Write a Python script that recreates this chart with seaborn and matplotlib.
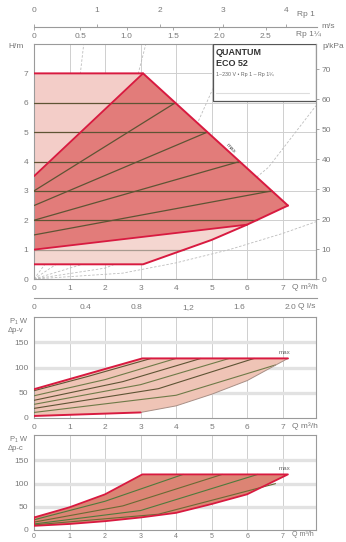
import numpy as np
import pandas as pd
import matplotlib
matplotlib.use("Agg")
import matplotlib.pyplot as plt
import seaborn as sns

sns.set_style("white")
plt.rcParams['font.family'] = ['Liberation Sans', 'DejaVu Sans']

# ---------------- data ----------------
# top chart: head H (m) vs flow Q (m3/h)
outline_q = [0, 0, 3.07, 7.15, 6.0, 5.0, 4.0, 3.07, 0]
outline_h = [0.5, 7, 7, 2.5, 1.85, 1.33, 0.9, 0.5, 0.5]
upper_q = [0, 3.07, 7.15]
upper_h = [7, 7, 2.5]
lower_q = [0, 3.07, 4.0, 5.0, 6.0, 7.15]
lower_h = [0.5, 0.5, 0.9, 1.33, 1.85, 2.5]
maxprop_q = [0, 3.07]
maxprop_h = [3.5, 7]
minprop_q = [0, 6.0]
minprop_h = [1.0, 1.85]
prop_start_h = [3.0, 2.5, 2.0, 1.5]
prop_end_q = [3.98, 4.88, 5.79, 6.70]
prop_end_h = [6, 5, 4, 3]
const_h = [6, 5, 4, 3, 2, 1]
const_end_q = [3.98, 4.88, 5.79, 6.70, 6.27, 4.23]
sys_curves = [
    ([0, 0.4, 0.7, 1.0, 1.2, 1.4], [0, 0.65, 2.0, 4.1, 5.9, 8.0]),
    ([0, 1.0, 1.6, 2.2, 2.7, 3.15], [0, 0.8, 2.1, 3.9, 5.9, 8.0]),
    ([0, 1.5, 2.5, 3.5, 4.6, 5.6], [0, 0.55, 1.6, 3.1, 5.3, 8.0]),
    ([0, 2.0, 3.5, 5.0, 6.6, 7.94], [0, 0.37, 1.1, 2.2, 3.8, 5.9]),
    ([0, 2.5, 4.0, 5.5, 7.0, 7.94], [0, 0.2, 0.55, 1.0, 1.55, 1.95]),
]
h_ticks = [0, 1, 2, 3, 4, 5, 6, 7]
kpa_ticks = [0, 10, 20, 30, 40, 50, 60, 70]
q_ticks = [0, 1, 2, 3, 4, 5, 6, 7]
ls_ticks = [0, 0.4, 0.8, 1.2, 1.6, 2.0]
ls_labels = ["0", "0.4", "0.8", "1,2", "1.6", "2.0"]
rp1_ticks = [0, 1, 2, 3, 4]
rp114_ticks = [0, 0.5, 1.0, 1.5, 2.0, 2.5]
rp114_labels = ["0", "0.5", "1.0", "1.5", "2.0", "2.5"]

# middle chart: power P1 (W), delta p-v
mid_out_q = [0, 3.05, 7.15, 6.0, 5.0, 4.0, 3.0, 0]
mid_out_w = [57, 118, 118, 74, 47, 24, 11, 4]
mid_top_q = [0, 3.05, 7.15]
mid_top_w = [57, 118, 118]
mid_bot_q = [0, 3.0]
mid_bot_w = [4, 11]
mid_low_q = [3.0, 4.0, 5.0, 6.0, 7.15]
mid_low_w = [11, 24, 47, 74, 118]
mid_lines = [
    ([0, 1.5, 3.3], [54, 82, 118]),
    ([0, 2.0, 4.0], [44, 76, 118]),
    ([0, 2.5, 4.7], [35, 72, 118]),
    ([0, 3.0, 5.5], [27, 66, 118]),
    ([0, 3.5, 6.2], [19, 58, 118]),
    ([0, 4.0, 6.8], [11, 45, 105]),
]
# bottom chart: power P1 (W), delta p-c
bot_out_q = [0, 1, 2, 3.05, 7.15, 6, 5, 4, 3, 2, 1, 0]
bot_out_w = [27, 49, 77, 120, 120, 77, 56, 37, 27, 19, 13, 9]
bot_lines = [
    ([0, 2.0, 4.2], [22, 62, 120]),
    ([0, 2.5, 5.3], [17, 52, 120]),
    ([0, 3.0, 6.3], [13, 42, 120]),
    ([0, 3.5, 6.8], [11, 34, 100]),
]
w_ticks = [0, 50, 100, 150]

# ---------------- layout ----------------
W, H = 346, 542
fig = plt.figure(figsize=(W / 100, H / 100), dpi=100)

def rect(x0, y0, x1, y1):
    return [x0 / W, 1 - y1 / H, (x1 - x0) / W, (y1 - y0) / H]

def ftext(x, y, s, **kw):
    kw.setdefault('fontsize', 6)
    kw.setdefault('color', '#777777')
    kw.setdefault('va', 'center')
    fig.text(x / W, 1 - y / H, s, **kw)

RED = '#d81a40'
DARK = '#5e5434'
GRID = '#cfcfcf'
TXT = '#7a7a7a'
QMAX = 7.94

def sline(ax, q, v, color, lw, z=3, **kw):
    d = pd.DataFrame({'q': q, 'v': v})
    sns.lineplot(data=d, x='q', y='v', ax=ax, color=color, lw=lw, sort=False,
                 estimator=None, zorder=z, legend=False, **kw)

def style_axes(ax):
    for s in ax.spines.values():
        s.set_color('#9a9a9a')
        s.set_linewidth(0.8)
    ax.tick_params(axis='both', labelsize=6, colors='#999999', labelcolor=TXT,
                   length=2, width=0.6, pad=2)
    ax.set_xlabel('')
    ax.set_ylabel('')

# ---------------- top chart ----------------
ax1 = fig.add_axes(rect(34, 44, 316, 279))
for q in q_ticks[1:]:
    ax1.axvline(q, color=GRID, lw=0.7, zorder=0)
for h in h_ticks[1:]:
    ax1.axhline(h, color=GRID, lw=0.7, zorder=0)
for sq, sh in sys_curves:
    sline(ax1, sq, sh, '#bdbdbd', 0.6, z=0.5, linestyle=(0, (3, 2)))
ax1.fill(outline_q, outline_h, color='#e27c7a', zorder=1, lw=0)
ax1.fill([0, 0, 3.07], [3.5, 7, 7], color='#f3cdc8', zorder=1.2, lw=0)
ax1.fill([0, 0, 6.0, 5.0, 4.0, 3.07, 0], [0.5, 1.0, 1.85, 1.33, 0.9, 0.5, 0.5],
         color='#f4d6d0', zorder=1.2, lw=0)
for hh, qe in zip(const_h, const_end_q):
    col = DARK if hh > 1 else '#a89a90'
    sline(ax1, [0, qe], [hh, hh], col, 0.9, z=3)
for hs, qe, he in zip(prop_start_h, prop_end_q, prop_end_h):
    sline(ax1, [0, qe], [hs, he], DARK, 0.9, z=3)
sline(ax1, maxprop_q, maxprop_h, RED, 1.3, z=4)
sline(ax1, minprop_q, minprop_h, RED, 1.3, z=4)
sline(ax1, upper_q, upper_h, RED, 1.4, z=4)
sline(ax1, lower_q, lower_h, RED, 1.4, z=4)
ax1.text(5.55, 4.45, 'max', rotation=-47, fontsize=4.5, color='#555555',
         ha='center', va='center', zorder=5)
# title box
ax1.add_patch(plt.Rectangle((5.04, 6.06), QMAX - 5.04, 8 - 6.06, facecolor='white',
                            edgecolor='#555555', lw=0.9, zorder=6))
ax1.text(5.12, 7.72, 'QUANTUM', fontsize=6.5, fontweight='bold', color='#333333',
         va='center', zorder=7)
ax1.text(5.12, 7.32, 'ECO 52', fontsize=6.5, fontweight='bold', color='#333333',
         va='center', zorder=7)
ax1.text(5.12, 6.95, '1~230 V • Rp 1 – Rp 1¼', fontsize=3.8, color='#666666',
         va='center', zorder=7)
ax1.plot([5.12, 7.75], [6.33, 6.33], color='#dddddd', lw=0.8, zorder=7)
ax1.set_xlim(0, QMAX)
ax1.set_ylim(0, 8)
ax1.set_xticks(q_ticks)
ax1.set_yticks(h_ticks)
style_axes(ax1)
sec = ax1.secondary_yaxis('right', functions=(lambda h: h * 9.81, lambda p: p / 9.81))
sec.set_yticks(kpa_ticks)
sec.tick_params(labelsize=6, colors='#999999', labelcolor=TXT, length=2, width=0.6, pad=2)
sec.spines['right'].set_color('#9a9a9a')
ftext(8, 47, 'H/m', ha='left')
ftext(322, 47, 'p/kPa', ha='left')
ftext(292, 287, 'Q m³/h', ha='left')

# velocity scales above
axv = fig.add_axes(rect(34, 27, 317, 27.01))
axv.set_xlim(0, QMAX)
axv.set_yticks([])
for s in ['left', 'right', 'top']:
    axv.spines[s].set_visible(False)
axv.spines['bottom'].set_color('#9a9a9a')
axv.spines['bottom'].set_linewidth(0.8)
axv.set_xticks([v * 1.768 for v in rp1_ticks])
axv.set_xticklabels([str(v) for v in rp1_ticks])
axv.tick_params(axis='x', top=True, labeltop=True, bottom=False, labelbottom=False,
                labelsize=6, colors='#999999', labelcolor=TXT, length=2, width=0.6, pad=7)
secv = axv.secondary_xaxis('bottom', functions=(lambda q: q / 2.6, lambda v: v * 2.6))
secv.set_xticks(rp114_ticks)
secv.set_xticklabels(rp114_labels)
secv.tick_params(labelsize=6, colors='#999999', labelcolor=TXT, length=2, width=0.6, pad=2)
secv.spines['bottom'].set_visible(False)
ftext(297, 15, 'Rp 1', ha='left')
ftext(296, 35, 'Rp 1¼', ha='left')
ftext(321, 27, 'm/s', ha='left')

# l/s scale below top chart
axl = fig.add_axes(rect(34, 298, 317, 298.01))
axl.set_xlim(0, QMAX)
axl.set_yticks([])
for s in ['left', 'right', 'top']:
    axl.spines[s].set_visible(False)
axl.spines['bottom'].set_color('#9a9a9a')
axl.spines['bottom'].set_linewidth(0.8)
axl.set_xticks([v * 3.6 for v in ls_ticks])
axl.set_xticklabels(ls_labels)
axl.tick_params(axis='x', labelsize=6, colors='#999999', labelcolor=TXT, length=2,
                width=0.6, pad=2)
ftext(298, 307, 'Q l/s', ha='left')

# ---------------- middle chart ----------------
ax2 = fig.add_axes(rect(34, 317, 316, 418))
for q in q_ticks[1:]:
    ax2.axvline(q, color=GRID, lw=0.7, zorder=0)
for w in w_ticks[1:]:
    ax2.axhline(w, color='#e2e2e2', lw=2.4, zorder=0)
ax2.fill(mid_out_q, mid_out_w, color='#efc4b6', zorder=1, lw=0)
for i, (mq, mw) in enumerate(mid_lines):
    sline(ax2, mq, mw, DARK if i % 2 == 0 else '#6f7a48', 0.8, z=3)
sline(ax2, mid_low_q, mid_low_w, '#a88f86', 0.7, z=3)
sline(ax2, mid_top_q, mid_top_w, RED, 1.4, z=4)
sline(ax2, mid_bot_q, mid_bot_w, RED, 1.4, z=4)
ax2.text(7.05, 130, 'max', fontsize=4.5, color='#666666', ha='center', va='center')
ax2.set_xlim(0, QMAX)
ax2.set_ylim(0, 200)
ax2.set_xticks(q_ticks)
ax2.set_yticks(w_ticks)
style_axes(ax2)
ftext(10, 322, 'P₁ W', ha='left', fontsize=5.5)
ftext(8, 331, 'Δp-v', ha='left', fontsize=5.5)
ftext(292, 426, 'Q m³/h', ha='left')

# ---------------- bottom chart ----------------
ax3 = fig.add_axes(rect(34, 435, 316, 530))
for q in q_ticks[1:]:
    ax3.axvline(q, color=GRID, lw=0.7, zorder=0)
for w in w_ticks[1:]:
    ax3.axhline(w, color='#e2e2e2', lw=2.4, zorder=0)
ax3.fill(bot_out_q, bot_out_w, color='#dc8474', zorder=1, lw=0)
for i, (bq, bw) in enumerate(bot_lines):
    sline(ax3, bq, bw, '#4f7a3c' if i % 2 == 0 else '#6a6a34', 0.8, z=3)
sline(ax3, bot_out_q + [bot_out_q[0]], bot_out_w + [bot_out_w[0]], RED, 1.3, z=4)
ax3.text(7.05, 133, 'max', fontsize=4.5, color='#666666', ha='center', va='center')
ax3.set_xlim(0, QMAX)
ax3.set_ylim(0, 205)
ax3.set_xticks(q_ticks)
ax3.set_yticks(w_ticks)
style_axes(ax3)
ax3.tick_params(axis='x', labelsize=5, pad=0.5, length=1.5)
ftext(10, 439, 'P₁ W', ha='left', fontsize=5.5)
ftext(8, 448, 'Δp-c', ha='left', fontsize=5.5)
ftext(292, 534, 'Q m³/h', ha='left', fontsize=5)

fig.savefig('out.png', dpi=100)
